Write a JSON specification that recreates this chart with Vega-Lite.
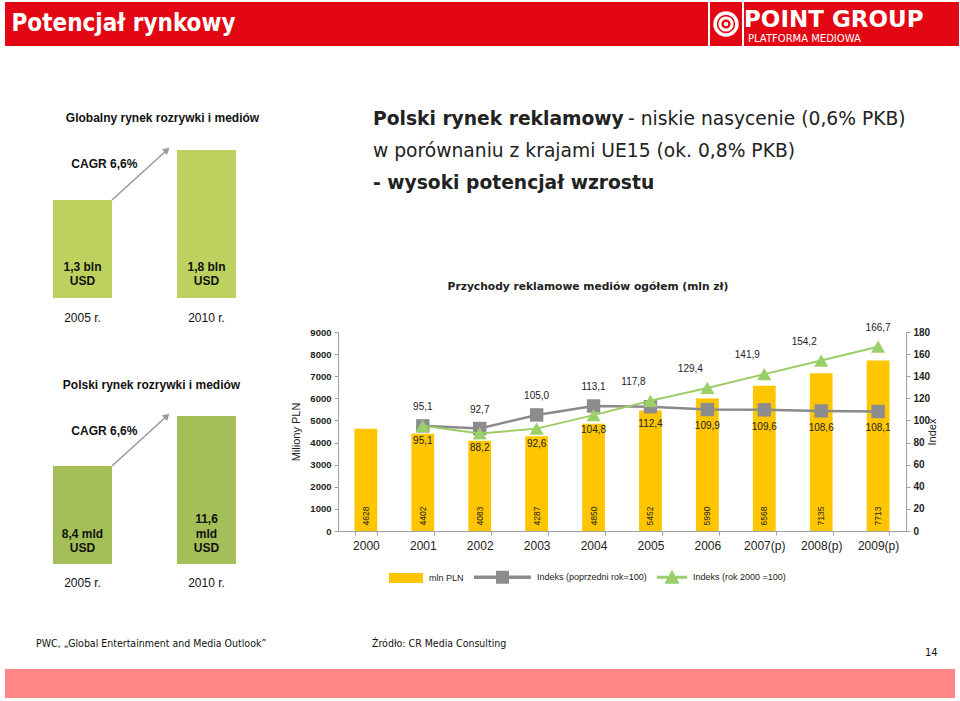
{
"$schema": "https://vega.github.io/schema/vega-lite/v6.json",
"background": "white",
"padding": {"left": 5, "top": 2, "right": 5, "bottom": 2},
"config": {
  "view": {"stroke": null},
  "concat": {"spacing": 0},
  "axis": {"grid": false},
  "locale": {"number": {"decimal": ",", "thousands": " ", "grouping": [3], "currency": ["", " zł"]}}
},
"datasets": {
  "rynek": [
    {"year": "2000", "mln": 4628, "prev": null, "base": null},
    {"year": "2001", "mln": 4402, "prev": 95.1, "base": 95.1},
    {"year": "2002", "mln": 4083, "prev": 92.7, "base": 88.2},
    {"year": "2003", "mln": 4287, "prev": 105.0, "base": 92.6},
    {"year": "2004", "mln": 4850, "prev": 113.1, "base": 104.8},
    {"year": "2005", "mln": 5452, "prev": 112.4, "base": 117.8},
    {"year": "2006", "mln": 5990, "prev": 109.9, "base": 129.4},
    {"year": "2007(p)", "mln": 6568, "prev": 109.6, "base": 141.9},
    {"year": "2008(p)", "mln": 7135, "prev": 108.6, "base": 154.2},
    {"year": "2009(p)", "mln": 7713, "prev": 108.1, "base": 166.7}
  ]
},
"spacing": 0,
"vconcat": [
  {
    "spacing": 0,
    "hconcat": [
      {"width": 237, "height": 44, "view": {"fill": "#e30613"},
       "data": {"values": [{"t": "Potencjał rynkowy"}]},
       "mark": {"type": "text", "font": "DejaVu Sans Condensed, DejaVu Sans", "fontSize": 24, "fontWeight": "bold", "color": "white", "baseline": "middle"},
       "encoding": {"text": {"field": "t"}}},
      {"width": 466, "height": 44, "view": {"fill": "#e30613"},
       "data": {"values": [{}]}, "mark": "text", "encoding": {"text": {"value": ""}}},
      {"width": 32, "height": 44, "view": {"fill": "#e30613"},
       "data": {"values": [{}]},
       "layer": [
         {"mark": {"type": "point", "shape": "circle", "size": 480, "filled": false, "color": "white", "strokeWidth": 3.5, "opacity": 1}, "encoding": {}},
         {"mark": {"type": "point", "shape": "circle", "size": 150, "filled": false, "color": "white", "strokeWidth": 3, "opacity": 1}, "encoding": {}},
         {"mark": {"type": "point", "shape": "circle", "size": 20, "filled": true, "color": "white", "opacity": 1}, "encoding": {}}
       ]},
      {"width": 215, "height": 44, "view": {"fill": "#e30613"},
       "data": {"values": [{"t": "POINT GROUP", "r": "a"}, {"t": "PLATFORMA MEDIOWA", "r": "b"}]},
       "encoding": {
         "x": {"datum": 0, "type": "quantitative", "scale": {"domain": [0, 1]}, "axis": null},
         "text": {"field": "t"}
       },
       "layer": [
         {"transform": [{"filter": "datum.r == 'a'"}], "mark": {"type": "text", "align": "left", "baseline": "middle", "font": "DejaVu Sans", "fontWeight": "bold", "fontSize": 23, "color": "white", "dy": -4}},
         {"transform": [{"filter": "datum.r == 'b'"}], "mark": {"type": "text", "align": "left", "baseline": "middle", "font": "DejaVu Sans", "fontSize": 10, "color": "white", "dx": 4, "dy": 15}}
       ]}
    ]
  },
  {"width": 1, "height": 54, "data": {"values": [{}]}, "mark": "text", "encoding": {"text": {"value": ""}}},
  {
    "spacing": 6,
    "hconcat": [
      {
        "spacing": 0,
        "vconcat": [
          {"width": 1, "height": 11, "data": {"values": [{}]}, "mark": "text", "encoding": {"text": {"value": ""}}},
          {
            "width": 279, "height": 156,
            "title": {"text": "Globalny rynek rozrywki i mediów", "font": "Liberation Sans", "fontSize": 12, "fontWeight": "bold", "color": "#111", "anchor": "middle", "frame": "group", "dx": 18, "offset": 17},
            "encoding": {"x": {"field": "rok", "type": "nominal", "sort": null, "scale": {"domain": ["2005 r.", "2010 r."], "paddingInner": 0.524, "paddingOuter": 0.387}, "axis": {"title": null, "domain": false, "ticks": false, "labelAngle": 0, "labelFont": "Liberation Sans", "labelFontSize": 12, "labelColor": "#111", "labelPadding": 14}}},
            "layer": [
              {"data": {"values": [{"rok": "2005 r.", "v": 1.3, "opis": "1,3 bln\nUSD"}, {"rok": "2010 r.", "v": 1.8, "opis": "1,8 bln\nUSD"}]},
               "layer": [
                 {"mark": {"type": "bar", "color": "#bdd25e"}, "encoding": {"y": {"field": "v", "type": "quantitative", "scale": {"domain": [0.32, 1.88], "zero": false, "nice": false, "clamp": true}, "axis": null}}},
                 {"mark": {"type": "text", "lineBreak": "\n", "baseline": "middle", "dy": -31, "font": "Liberation Sans", "fontSize": 12, "fontWeight": "bold", "color": "#111", "lineHeight": 14}, "encoding": {"y": {"value": "height"}, "text": {"field": "opis"}}}
               ]},
              {"data": {"values": [{"od": "2005 r.", "do": "2010 r.", "v0": 1.3, "v1": 1.8, "opis": "CAGR 6,6%"}]},
               "layer": [
                 {"mark": {"type": "rule", "color": "#9a9a9a", "strokeWidth": 1.6}, "encoding": {"x": {"field": "od", "type": "nominal", "bandPosition": 1}, "x2": {"field": "do", "bandPosition": -0.17}, "y": {"field": "v0", "type": "quantitative", "scale": {"domain": [0.32, 1.88], "zero": false, "nice": false, "clamp": true}}, "y2": {"field": "v1"}}},
                 {"mark": {"type": "point", "shape": "triangle-up", "filled": true, "color": "#9a9a9a", "size": 60, "angle": 48, "opacity": 1}, "encoding": {"x": {"field": "do", "type": "nominal", "bandPosition": -0.17}, "y": {"field": "v1", "type": "quantitative", "scale": {"domain": [0.32, 1.88], "zero": false, "nice": false, "clamp": true}}}},
                 {"mark": {"type": "text", "dy": 14, "font": "Liberation Sans", "fontSize": 12, "fontWeight": "bold", "color": "#111"}, "encoding": {"x": {"field": "od", "type": "nominal", "bandPosition": 0.87}, "y": {"field": "v1", "type": "quantitative", "scale": {"domain": [0.32, 1.88], "zero": false, "nice": false, "clamp": true}}, "text": {"field": "opis"}}}
               ]}
            ]
          },
          {"width": 1, "height": 56, "data": {"values": [{}]}, "mark": "text", "encoding": {"text": {"value": ""}}},
          {
            "width": 279, "height": 156,
            "title": {"text": "Polski rynek rozrywki i mediów", "font": "Liberation Sans", "fontSize": 12, "fontWeight": "bold", "color": "#111", "anchor": "middle", "frame": "group", "dx": 7, "offset": 16},
            "encoding": {"x": {"field": "rok", "type": "nominal", "sort": null, "scale": {"domain": ["2005 r.", "2010 r."], "paddingInner": 0.524, "paddingOuter": 0.387}, "axis": {"title": null, "domain": false, "ticks": false, "labelAngle": 0, "labelFont": "Liberation Sans", "labelFontSize": 12, "labelColor": "#111", "labelPadding": 13}}},
            "layer": [
              {"data": {"values": [{"rok": "2005 r.", "v": 8.4, "opis": "\n8,4 mld\nUSD"}, {"rok": "2010 r.", "v": 11.6, "opis": "11,6\nmld\nUSD"}]},
               "layer": [
                 {"mark": {"type": "bar", "color": "#a4bf58"}, "encoding": {"y": {"field": "v", "type": "quantitative", "scale": {"domain": [2.13, 12.11], "zero": false, "nice": false, "clamp": true}, "axis": null}}},
                 {"mark": {"type": "text", "lineBreak": "\n", "baseline": "middle", "dy": -45, "font": "Liberation Sans", "fontSize": 12, "fontWeight": "bold", "color": "#111", "lineHeight": 14.5}, "encoding": {"y": {"value": "height"}, "text": {"field": "opis"}}}
               ]},
              {"data": {"values": [{"od": "2005 r.", "do": "2010 r.", "v0": 8.4, "v1": 11.6, "opis": "CAGR 6,6%"}]},
               "layer": [
                 {"mark": {"type": "rule", "color": "#9a9a9a", "strokeWidth": 1.6}, "encoding": {"x": {"field": "od", "type": "nominal", "bandPosition": 1}, "x2": {"field": "do", "bandPosition": -0.17}, "y": {"field": "v0", "type": "quantitative", "scale": {"domain": [2.13, 12.11], "zero": false, "nice": false, "clamp": true}}, "y2": {"field": "v1"}}},
                 {"mark": {"type": "point", "shape": "triangle-up", "filled": true, "color": "#9a9a9a", "size": 60, "angle": 48, "opacity": 1}, "encoding": {"x": {"field": "do", "type": "nominal", "bandPosition": -0.17}, "y": {"field": "v1", "type": "quantitative", "scale": {"domain": [2.13, 12.11], "zero": false, "nice": false, "clamp": true}}}},
                 {"mark": {"type": "text", "dy": 15, "font": "Liberation Sans", "fontSize": 12, "fontWeight": "bold", "color": "#111"}, "encoding": {"x": {"field": "od", "type": "nominal", "bandPosition": 0.87}, "y": {"field": "v1", "type": "quantitative", "scale": {"domain": [2.13, 12.11], "zero": false, "nice": false, "clamp": true}}, "text": {"field": "opis"}}}
               ]}
            ]
          }
        ]
      },
      {
        "spacing": 0,
        "vconcat": [
          {
            "spacing": 0,
            "hconcat": [
              {"width": 35, "height": 36, "data": {"values": [{}]}, "mark": "text", "encoding": {"text": {"value": ""}}},
              {"width": 255, "height": 36,
               "data": {"values": [{"t": "Polski rynek reklamowy"}]},
               "mark": {"type": "text", "align": "left", "baseline": "middle", "font": "DejaVu Sans", "fontSize": 18.7, "fontWeight": "bold", "color": "#222"},
               "encoding": {"x": {"datum": 0, "type": "quantitative", "scale": {"domain": [0, 1]}, "axis": null}, "text": {"field": "t"}}},
              {"width": 328, "height": 36,
               "data": {"values": [{"t": "- niskie nasycenie (0,6% PKB)"}]},
               "mark": {"type": "text", "align": "left", "baseline": "middle", "font": "DejaVu Sans", "fontSize": 18.7, "color": "#222"},
               "encoding": {"x": {"datum": 0, "type": "quantitative", "scale": {"domain": [0, 1]}, "axis": null}, "text": {"field": "t"}}}
            ]
          },
          {
            "spacing": 0,
            "hconcat": [
              {"width": 35, "height": 28, "data": {"values": [{}]}, "mark": "text", "encoding": {"text": {"value": ""}}},
              {"width": 440, "height": 28,
               "data": {"values": [{"t": "w porównaniu z krajami UE15 (ok. 0,8% PKB)"}]},
               "mark": {"type": "text", "align": "left", "baseline": "middle", "font": "DejaVu Sans", "fontSize": 18.7, "color": "#222"},
               "encoding": {"x": {"datum": 0, "type": "quantitative", "scale": {"domain": [0, 1]}, "axis": null}, "text": {"field": "t"}}}
            ]
          },
          {
            "spacing": 0,
            "hconcat": [
              {"width": 35, "height": 36, "data": {"values": [{}]}, "mark": "text", "encoding": {"text": {"value": ""}}},
              {"width": 310, "height": 36,
               "data": {"values": [{"t": "- wysoki potencjał wzrostu"}]},
               "mark": {"type": "text", "align": "left", "baseline": "middle", "font": "DejaVu Sans", "fontSize": 18.7, "fontWeight": "bold", "color": "#222"},
               "encoding": {"x": {"datum": 0, "type": "quantitative", "scale": {"domain": [0, 1]}, "axis": null}, "text": {"field": "t"}}}
            ]
          },
          {"width": 1, "height": 80, "data": {"values": [{}]}, "mark": "text", "encoding": {"text": {"value": ""}}},
          {
            "width": 568, "height": 199,
            "title": {"text": "Przychody reklamowe mediów ogółem (mln zł)", "font": "DejaVu Sans", "fontSize": 10.7, "fontWeight": "bold", "color": "#222", "anchor": "middle", "frame": "group", "dx": -34, "offset": 30},
            "data": {"name": "rynek"},
            "encoding": {
              "x": {"field": "year", "type": "nominal", "sort": null, "scale": {"paddingInner": 0.6, "paddingOuter": 0.29},
                    "axis": {"title": null, "labelAngle": 0, "labelFont": "Liberation Sans", "labelFontSize": 12, "labelColor": "#222", "labelPadding": 5, "domainColor": "#a0a0a0", "tickColor": "#a0a0a0", "tickSize": 4, "tickBand": "extent"}}
            },
            "layer": [
              {"mark": {"type": "bar", "color": "#ffc600"},
               "encoding": {"y": {"field": "mln", "type": "quantitative", "scale": {"domain": [0, 9000], "nice": false},
                 "axis": {"title": "Miliony PLN", "values": [0, 1000, 2000, 3000, 4000, 5000, 6000, 7000, 8000, 9000], "format": "d", "labelFont": "Liberation Sans", "labelFontSize": 9.5, "labelFontWeight": "bold", "labelColor": "#222", "labelPadding": 3, "tickSize": 4, "tickColor": "#a0a0a0", "domainColor": "#a0a0a0", "titleFont": "Liberation Sans", "titleFontSize": 11, "titleFontWeight": "normal", "titleColor": "#222", "titlePadding": 8}}}},
              {"mark": {"type": "text", "angle": 270, "align": "center", "baseline": "middle", "dx": 15, "font": "Liberation Sans", "fontSize": 8.5, "color": "#222"},
               "encoding": {"y": {"datum": 0, "type": "quantitative", "scale": {"domain": [0, 9000], "nice": false}, "axis": null}, "text": {"field": "mln", "type": "quantitative", "format": "d"}}},
              {"transform": [{"filter": {"field": "prev", "valid": true}}],
               "mark": {"type": "line", "color": "#8a8a8a", "strokeWidth": 2.5},
               "encoding": {"y": {"field": "prev", "type": "quantitative", "scale": {"domain": [0, 180], "nice": false},
                 "axis": {"orient": "right", "title": "Index", "values": [0, 20, 40, 60, 80, 100, 120, 140, 160, 180], "format": "d", "labelFont": "Liberation Sans", "labelFontSize": 10, "labelFontWeight": "bold", "labelColor": "#222", "labelPadding": 3, "tickSize": 4, "tickColor": "#a0a0a0", "domainColor": "#a0a0a0", "titleFont": "Liberation Sans", "titleFontSize": 11, "titleFontWeight": "normal", "titleColor": "#222", "titlePadding": 8, "titleAngle": 270}}}},
              {"transform": [{"filter": {"field": "prev", "valid": true}}],
               "mark": {"type": "point", "shape": "square", "filled": true, "color": "#8c8c8c", "size": 180, "opacity": 1},
               "encoding": {"y": {"field": "prev", "type": "quantitative", "scale": {"domain": [0, 180], "nice": false}, "axis": null}}},
              {"transform": [{"filter": {"field": "base", "valid": true}}],
               "mark": {"type": "line", "color": "#9ccc65", "strokeWidth": 2},
               "encoding": {"y": {"field": "base", "type": "quantitative", "scale": {"domain": [0, 180], "nice": false}, "axis": null}}},
              {"transform": [{"filter": {"field": "base", "valid": true}}],
               "mark": {"type": "point", "shape": "triangle-up", "filled": true, "color": "#9bcf69", "size": 200, "opacity": 1},
               "encoding": {"y": {"field": "base", "type": "quantitative", "scale": {"domain": [0, 180], "nice": false}, "axis": null}}},
              {"transform": [{"filter": {"field": "year", "oneOf": ["2001", "2002", "2003", "2004"]}}],
               "mark": {"type": "text", "dy": -19, "font": "Liberation Sans", "fontSize": 10, "color": "#222"},
               "encoding": {"y": {"field": "prev", "type": "quantitative", "scale": {"domain": [0, 180], "nice": false}, "axis": null}, "text": {"field": "prev", "type": "quantitative", "format": ".1f"}}},
              {"transform": [{"filter": {"field": "year", "oneOf": ["2005", "2006", "2007(p)", "2008(p)", "2009(p)"]}}],
               "mark": {"type": "text", "dy": 17, "font": "Liberation Sans", "fontSize": 10, "color": "#222"},
               "encoding": {"y": {"field": "prev", "type": "quantitative", "scale": {"domain": [0, 180], "nice": false}, "axis": null}, "text": {"field": "prev", "type": "quantitative", "format": ".1f"}}},
              {"transform": [{"filter": {"field": "year", "oneOf": ["2001", "2002", "2003", "2004"]}}],
               "mark": {"type": "text", "dy": 15, "font": "Liberation Sans", "fontSize": 10, "color": "#222"},
               "encoding": {"y": {"field": "base", "type": "quantitative", "scale": {"domain": [0, 180], "nice": false}, "axis": null}, "text": {"field": "base", "type": "quantitative", "format": ".1f"}}},
              {"transform": [{"filter": {"field": "year", "oneOf": ["2005", "2006", "2007(p)", "2008(p)"]}}],
               "mark": {"type": "text", "dy": -19, "dx": -17, "font": "Liberation Sans", "fontSize": 10, "color": "#222"},
               "encoding": {"y": {"field": "base", "type": "quantitative", "scale": {"domain": [0, 180], "nice": false}, "axis": null}, "text": {"field": "base", "type": "quantitative", "format": ".1f"}}},
              {"transform": [{"filter": {"field": "year", "oneOf": ["2009(p)"]}}],
               "mark": {"type": "text", "dy": -19, "font": "Liberation Sans", "fontSize": 10, "color": "#222"},
               "encoding": {"y": {"field": "base", "type": "quantitative", "scale": {"domain": [0, 180], "nice": false}, "axis": null}, "text": {"field": "base", "type": "quantitative", "format": ".1f"}}},
              {"data": {"values": [{"seria": "mln PLN"}, {"seria": "Indeks (poprzedni rok=100)"}, {"seria": "Indeks (rok 2000 =100)"}]},
               "mark": {"type": "point", "filled": true, "opacity": 0},
               "encoding": {
                 "x": {"datum": "2000", "type": "nominal"},
                 "y": {"datum": 0, "type": "quantitative", "scale": {"domain": [0, 180], "nice": false}, "axis": null},
                 "color": {"field": "seria", "type": "nominal", "sort": null,
                   "scale": {"domain": ["mln PLN", "Indeks (poprzedni rok=100)", "Indeks (rok 2000 =100)"], "range": ["#ffc600", "#8c8c8c", "#9bcf69"]},
                   "legend": {"title": null, "orient": "none", "legendX": 408, "legendY": 570, "direction": "horizontal", "symbolSize": 100, "symbolStrokeWidth": 0, "symbolOpacity": 1, "labelFont": "Liberation Sans", "labelFontSize": 9, "labelColor": "#222", "labelOffset": 6, "columnPadding": 10}},
                 "shape": {"field": "seria", "type": "nominal", "sort": null,
                   "scale": {"domain": ["mln PLN", "Indeks (poprzedni rok=100)", "Indeks (rok 2000 =100)"], "range": ["M-5.8,-1H1V1H-5.8Z", "M-10.4,-0.35H1V0.35H-10.4Z M-6,-1.3H-3.4V1.3H-6Z", "M-5,-0.3H1V0.3H-5Z M-2,-1.5L-0.5,1.3H-3.5Z"]},
                   "legend": {"title": null, "orient": "none", "legendX": 408, "legendY": 570, "direction": "horizontal", "symbolSize": 100, "symbolStrokeWidth": 0, "symbolOpacity": 1, "labelFont": "Liberation Sans", "labelFontSize": 9, "labelColor": "#222", "labelOffset": 6, "columnPadding": 10}}
               }}
            ],
            "resolve": {"scale": {"y": "independent"}}
          }
        ]
      }
    ]
  },
  {"width": 1, "height": 31, "data": {"values": [{}]}, "mark": "text", "encoding": {"text": {"value": ""}}},
  {
    "spacing": 0,
    "hconcat": [
      {"width": 31, "height": 50, "data": {"values": [{}]}, "mark": "text", "encoding": {"text": {"value": ""}}},
      {"width": 336, "height": 50, "data": {"values": [{"t": "PWC, „Global Entertainment and Media Outlook”"}]},
       "mark": {"type": "text", "align": "left", "baseline": "middle", "font": "DejaVu Sans Condensed, DejaVu Sans", "fontSize": 10.5, "color": "#111"},
       "encoding": {"x": {"datum": 0, "type": "quantitative", "scale": {"domain": [0, 1]}, "axis": null}, "text": {"field": "t"}}},
      {"width": 553, "height": 50, "data": {"values": [{"t": "Źródło: CR Media Consulting"}]},
       "mark": {"type": "text", "align": "left", "baseline": "middle", "font": "DejaVu Sans Condensed, DejaVu Sans", "fontSize": 10.5, "color": "#111"},
       "encoding": {"x": {"datum": 0, "type": "quantitative", "scale": {"domain": [0, 1]}, "axis": null}, "text": {"field": "t"}}},
      {"width": 30, "height": 50, "data": {"values": [{"t": "14"}]},
       "mark": {"type": "text", "align": "left", "baseline": "middle", "dy": 9, "font": "DejaVu Sans Condensed, DejaVu Sans", "fontSize": 11, "color": "#111"},
       "encoding": {"x": {"datum": 0, "type": "quantitative", "scale": {"domain": [0, 1]}, "axis": null}, "text": {"field": "t"}}}
    ]
  },
  {"width": 950, "height": 29, "view": {"fill": "#ff8686"}, "data": {"values": [{}]}, "mark": "text", "encoding": {"text": {"value": ""}}}
]
}
